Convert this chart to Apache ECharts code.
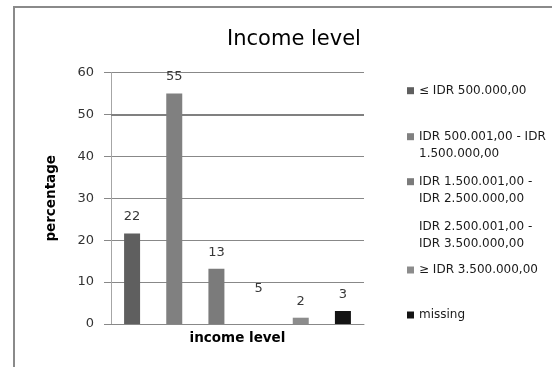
<!DOCTYPE html>
<html><head><meta charset="utf-8">
<script src="https://cdn.jsdelivr.net/npm/echarts@6/dist/echarts.min.js"></script>
<style>html,body{margin:0;padding:0;background:#fff}#c{width:552px;height:367px}</style>
</head><body><div id="c"></div>
<script>
// ---- data ----
const categories = ['≤ IDR 500.000,00', 'IDR 500.001,00 - IDR 1.500.000,00', 'IDR 1.500.001,00 - IDR 2.500.000,00', 'IDR 2.500.001,00 - IDR 3.500.000,00', '≥ IDR 3.500.000,00', 'missing'];
const legendLabels = ['≤ IDR 500.000,00', 'IDR 500.001,00 - IDR\n1.500.000,00', 'IDR 1.500.001,00 -\nIDR 2.500.000,00', 'IDR 2.500.001,00 -\nIDR 3.500.000,00', '≥ IDR 3.500.000,00', 'missing'];
const percentages = [21.6, 55.0, 13.2, 4.6, 1.5, 3.1];
const dataLabels = ['22', '55', '13', '5', '2', '3'];
const yMin = 0, yMax = 60, yStep = 10;
const titleText = 'Income level';
const xAxisTitle = 'income level';
const yAxisTitle = 'percentage';

// ---- styles ----
const barColors = ['#5f5f5f', '#808080', '#7b7b7b', '#ffffff', '#8c8c8c', '#141414'];
const legendFirstLineCenters = [90.7, 136.7, 181.7, 226.7, 270, 315];
const FONT = 'DejaVu Sans';
const LH = 17;

const chart = echarts.init(document.getElementById('c'), null, {renderer: 'canvas'});

const series = categories.map((name, i) => {
  const s = {
    name: name,
    type: 'bar',
    stack: 'all',
    barWidth: 16,
    data: categories.map((_, j) => j === i ? percentages[i] : '-'),
    itemStyle: {color: barColors[i]},
    label: {
      show: true, position: 'top', distance: 10,
      formatter: () => dataLabels[i],
      color: '#383838', fontSize: 13, fontFamily: FONT
    },
    animation: false
  };
  if (i === 0) {
    s.markLine = {
      silent: true, symbol: 'none', label: {show: false},
      lineStyle: {color: '#808080', width: 2, type: 'solid'},
      data: [{yAxis: 50}], animation: false
    };
  }
  return s;
});

const legends = categories.map((name, i) => {
  const twoLine = legendLabels[i].indexOf('\n') >= 0;
  const lg = {
    data: [name],
    left: 407,
    top: legendFirstLineCenters[i] - LH / 2,
    orient: 'vertical',
    padding: 0,
    selectedMode: false,
    itemWidth: 7,
    itemHeight: 7,
    icon: 'rect',
    itemStyle: {borderWidth: 0},
    formatter: () => legendLabels[i],
    textStyle: {fontFamily: FONT, fontSize: 12, color: '#1a1a1a', lineHeight: LH}
  };
  if (twoLine) {
    lg.itemHeight = 2 * LH;
    lg.icon = 'path://M0,0L0,0M0,' + (2 * LH) + 'L0,' + (2 * LH) + 'M0,5L7,5L7,12L0,12Z';
  }
  return lg;
});

chart.setOption({
  animation: false,
  backgroundColor: '#ffffff',
  title: {
    text: titleText, left: 289, top: 24, textAlign: 'center',
    textStyle: {fontFamily: FONT, fontSize: 21, fontWeight: 'normal', color: '#000'}
  },
  legend: legends,
  grid: {left: 111, right: 188, top: 72.6, bottom: 43, containLabel: false},
  xAxis: {
    type: 'category', data: categories,
    name: xAxisTitle, nameLocation: 'middle', nameGap: 7,
    nameTextStyle: {fontFamily: FONT, fontSize: 13.5, fontWeight: 'bold', color: '#000'},
    axisLine: {show: true, lineStyle: {color: '#888', width: 1}},
    axisTick: {show: false}, axisLabel: {show: false}, splitLine: {show: false}
  },
  yAxis: {
    type: 'value', min: yMin, max: yMax, interval: yStep,
    name: yAxisTitle, nameLocation: 'middle', nameGap: 53, nameRotate: 90,
    nameTextStyle: {fontFamily: FONT, fontSize: 13.5, fontWeight: 'bold', color: '#000'},
    axisLine: {show: true, lineStyle: {color: '#a6a6a6', width: 1}},
    axisTick: {show: true, length: 7, lineStyle: {color: '#888'}},
    axisLabel: {margin: 17, fontFamily: FONT, fontSize: 13, color: '#333'},
    splitLine: {show: true, lineStyle: {color: '#888', width: 1}}
  },
  graphic: [{
    type: 'rect', shape: {x: 14, y: 7, width: 600, height: 400},
    style: {fill: null, stroke: '#8a8a8a', lineWidth: 2}, silent: true
  }],
  series: series
});
</script></body></html>
